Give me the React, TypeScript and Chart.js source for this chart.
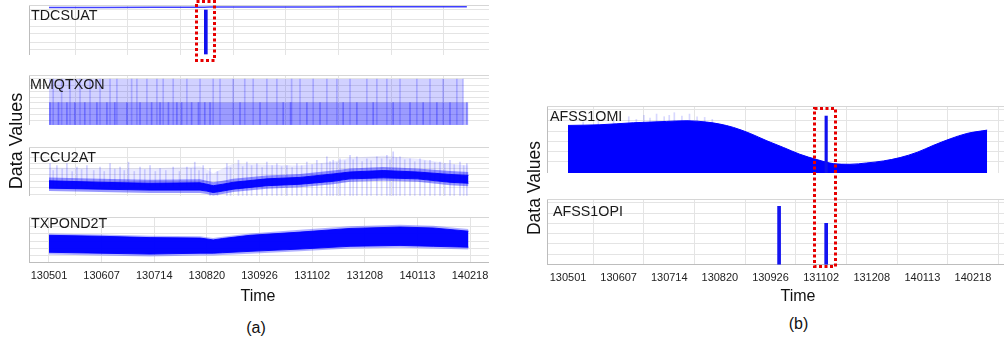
import React, { useEffect, useRef } from 'react';
import { Chart, registerables } from 'chart.js';

Chart.register(...registerables);
Chart.defaults.font.family = '"Liberation Sans", Arial, sans-serif';

// ---------- shared axis data ----------
const tickLabels = ['130501', '130607', '130714', '130820', '130926', '131102', '131208', '140113', '140218'];
const tickPositions = [0, 1, 2, 3, 4, 5, 6, 7, 8];

// ---------- panel (a) ----------
// TDCSUAT
const tdcX = [0, 1, 2, 2.95, 3.05, 4, 5, 6, 7, 7.94];
const tdcY = [95, 95, 95.5, 95.5, 96, 96, 96, 96.5, 96.5, 96.5];
const tdcSpikeX = [2.98];
const tdcSpikeLo = [2];
const tdcSpikeHi = [90];
const tdcGrid = [0, 12, 26, 43, 57, 71, 90, 100];

// MMQTXON
const mmqSpanX = [0, 7.87];
const mmqSpanHigh = [92, 92];
const mmqLowSpanX = [0, 7.97];
const mmqLowSpan = [45, 45];
const mmqFullX = [0.08, 0.24, 0.4, 0.59, 0.78, 0.97, 1.16, 1.29, 1.57, 1.67, 1.86, 2.05, 2.17, 2.36, 2.62, 2.87, 3.12, 3.25, 3.5, 3.72, 3.88, 4.14, 4.33, 4.61, 4.77, 5.02, 5.28, 5.47, 5.72, 6.04, 6.23, 6.42, 6.67, 6.99, 7.24, 7.49, 7.75, 7.87];
const mmqFullY = mmqFullX.map(() => 92);
const mmqHalfX = [0.02, 0.18, 0.34, 0.49, 0.68, 0.91, 1.1, 1.25, 1.48, 1.73, 1.95, 2.11, 2.27, 2.43, 2.52, 2.71, 2.84, 2.96, 3.06, 3.63, 4.01, 4.45, 4.59, 4.9, 5.15, 5.59, 5.85, 6.16, 6.54, 6.86, 7.11, 7.37, 7.62, 7.94];
const mmqHalfY = mmqHalfX.map(() => 45);
const mmqGrid = [0, 10, 22, 33, 45, 55, 67, 78, 92, 100];

// TCCU2AT
const tccX = [0, 0.97, 1.92, 2.87, 3.0, 3.12, 3.3, 3.5, 4.14, 4.77, 5.4, 5.72, 6.35, 7.0, 7.62, 7.97];
const tccLow = [16, 14, 12, 12, 10, 7, 10, 14, 21, 24, 30, 35, 37, 35, 28, 26];
const tccHigh = [31, 28, 26, 27, 24, 21, 24, 28, 35, 38, 45, 49, 52, 49, 44, 42];
const tccFringeLow = [10, 8, 6, 6, 4, 1, 4, 8, 15, 18, 24, 29, 31, 29, 22, 20];
const tccFringeHigh = [38, 35, 33, 34, 31, 28, 31, 35, 42, 45, 52, 56, 59, 56, 51, 49];
const tccHaze = [58, 56, 56, 60, 54, 46, 56, 66, 64, 62, 70, 78, 82, 76, 66, 62];
const tccSpikeX = [0.02, 0.15, 0.34, 0.53, 0.72, 0.97, 1.16, 1.35, 1.51, 1.73, 1.92, 2.11, 2.36, 2.62, 2.77, 2.93, 3.06, 3.38, 3.6, 3.76, 3.95, 4.14, 4.33, 4.52, 4.71, 4.9, 5.09, 5.28, 5.4, 5.53, 5.72, 5.85, 6.04, 6.23, 6.42, 6.54, 6.67, 6.86, 7.05, 7.24, 7.43, 7.62, 7.81, 7.94];
const tccSpikeTop = [66, 62, 66, 59, 62, 59, 66, 59, 69, 59, 62, 56, 59, 59, 69, 62, 56, 66, 73, 69, 66, 69, 66, 62, 66, 69, 73, 80, 73, 76, 83, 80, 76, 80, 83, 90, 80, 76, 76, 73, 69, 73, 69, 66];
const tccSpike2X = [0.08, 0.25, 0.44, 0.62, 0.85, 1.05, 1.25, 1.43, 1.62, 1.82, 2.02, 2.22, 2.48, 2.7, 2.85, 3.0, 3.2, 3.45, 3.68, 3.85, 4.05, 4.24, 4.42, 4.62, 4.8, 5.0, 5.18, 5.34, 5.47, 5.62, 5.78, 5.95, 6.12, 6.32, 6.48, 6.6, 6.76, 6.95, 7.14, 7.33, 7.52, 7.7, 7.88];
const tccSpike2Top = [52, 55, 50, 54, 52, 50, 55, 52, 50, 54, 50, 52, 50, 56, 52, 45, 50, 58, 60, 62, 58, 62, 60, 58, 62, 64, 66, 70, 68, 72, 74, 70, 72, 76, 74, 78, 74, 70, 72, 68, 66, 64, 62];
const tccGrid = [0, 4, 17, 29, 44, 56, 67, 79, 100];

// TXPOND2T
const txpX = [0, 0.97, 1.92, 2.87, 3.0, 3.12, 3.3, 3.82, 4.77, 5.72, 6.67, 7.3, 7.97];
const txpLow = [23, 21, 19, 21, 21, 21, 22, 25, 30, 36, 38, 36, 34];
const txpHigh = [60, 58, 55, 54, 52, 50, 53, 60, 67, 75, 78, 76, 69];
const txpFringeLow = [18, 16, 14, 16, 16, 16, 17, 20, 25, 31, 33, 31, 29];
const txpFringeHigh = [64, 62, 59, 58, 56, 54, 57, 64, 72, 80, 83, 81, 74];
const txpGrid = [0, 16, 31, 47, 64, 80, 100];

// ---------- panel (b) ----------
// AFSS1OMI
const omiX = [0, 0.63, 1.29, 1.95, 2.35, 2.74, 3.0, 3.27, 3.6, 3.93, 4.26, 4.58, 4.92, 5.24, 5.57, 5.9, 6.23, 6.56, 6.9, 7.21, 7.55, 7.88, 8.28];
const omiY = [71, 72, 75, 77, 78, 76, 73, 68, 59, 48, 38, 28, 20, 14, 13, 15, 18, 23, 31, 41, 51, 59, 64];
const omiNoiseX = [0.3, 0.6, 0.9, 1.2, 1.35, 1.5, 1.62, 1.75, 1.9, 2.0, 2.1, 2.25, 2.4, 2.55, 2.7, 2.85];
const omiNoiseTop = [76, 77, 79, 84, 80, 86, 82, 88, 84, 86, 90, 85, 88, 84, 83, 80];
const omiSpikeX = [5.1];
const omiSpikeY = [85];
const omiGrid = [0, 17, 32, 47, 62, 79, 95, 100];

// AFSS1OPI
const opiX = [4.17, 5.1];
const opiY = [89, 63];
const opiGrid = [0, 15, 32, 48, 63, 78, 94, 100];

// ---------- styling ----------
const GRID = '#e4e4e4';
const BORDER = '#bdbdbd';
const BLUE = '#0000ff';

const pts = (xs: number[], ys: number[]) => xs.map((x, i) => ({ x, y: ys[i] }));
const rangePts = (xs: number[], lo: number[], hi: number[]) => xs.map((x, i) => ({ x, y: [lo[i], hi[i]] }));

const lineDs = (data: any, color: string, width: number, fill: any = false, bg = 'transparent', tension = 0) => ({
  type: 'line',
  data,
  borderColor: color,
  borderWidth: width,
  backgroundColor: bg,
  pointRadius: 0,
  fill,
  tension,
  cubicInterpolationMode: tension ? 'monotone' : 'default',
});

const barDs = (data: any, color: string, thickness: number) => ({
  type: 'bar',
  data,
  backgroundColor: color,
  borderWidth: 0,
  barThickness: thickness,
  grouped: false,
});

const noPad = (s: any) => {
  s.paddingLeft = 0;
  s.paddingRight = 0;
  s.paddingTop = 0;
  s.paddingBottom = 0;
};

function makeOptions(xMin: number, xMax: number, yTicks: number[], showLabels: boolean) {
  return {
    responsive: false,
    animation: false,
    events: [],
    layout: { padding: 0, autoPadding: false },
    plugins: { legend: { display: false }, tooltip: { enabled: false } },
    scales: {
      x: {
        type: 'linear',
        min: xMin,
        max: xMax,
        offset: false,
        afterBuildTicks: (s: any) => {
          s.ticks = tickPositions.map((v) => ({ value: v }));
        },
        afterFit: noPad,
        grid: { color: GRID, drawTicks: false },
        border: { color: BORDER },
        ticks: {
          display: showLabels,
          padding: 7,
          autoSkip: false,
          maxRotation: 0,
          color: '#222',
          font: { size: 11 },
          callback: (v: number) => tickLabels[Math.round(v)],
        },
      },
      y: {
        type: 'linear',
        min: 0,
        max: 100,
        afterBuildTicks: (s: any) => {
          s.ticks = yTicks.map((v) => ({ value: v }));
        },
        afterFit: noPad,
        grid: { color: GRID, drawTicks: false },
        border: { color: BORDER },
        ticks: { display: false },
      },
      x2: {
        type: 'linear',
        position: 'top',
        min: xMin,
        max: xMax,
        afterFit: noPad,
        grid: { display: false, drawTicks: false },
        ticks: { display: false },
        border: { color: '#d6d6d6' },
      },
      y2: {
        type: 'linear',
        position: 'right',
        min: 0,
        max: 100,
        afterFit: noPad,
        grid: { display: false, drawTicks: false },
        ticks: { display: false },
        border: { color: BORDER },
      },
    },
  };
}

type SubProps = {
  left: number;
  top: number;
  width: number;
  height: number;
  xMin: number;
  xMax: number;
  yTicks: number[];
  showLabels: boolean;
  datasets: any[];
};

function SubChart(p: SubProps) {
  const ref = useRef<HTMLCanvasElement>(null);
  useEffect(() => {
    const chart = new Chart(ref.current as HTMLCanvasElement, {
      type: 'line',
      data: { datasets: p.datasets },
      options: makeOptions(p.xMin, p.xMax, p.yTicks, p.showLabels) as any,
    } as any);
    return () => chart.destroy();
  }, []);
  return (
    <canvas
      ref={ref}
      width={p.width}
      height={p.height}
      style={{ position: 'absolute', left: p.left, top: p.top, width: p.width, height: p.height }}
    />
  );
}

const A_MIN = -0.38;
const A_MAX = 8.361;
const B_MIN = -0.415;
const B_MAX = 8.613;

const nameStyle: React.CSSProperties = {
  position: 'absolute',
  fontSize: 14.3,
  lineHeight: 1,
  color: '#1a1a1a',
  whiteSpace: 'nowrap',
};

function Label({ text, left, top }: { text: string; left: number; top: number }) {
  return <div style={{ ...nameStyle, left, top }}>{text}</div>;
}

function Centered({ text, cx, top, size }: { text: string; cx: number; top: number; size: number }) {
  return (
    <div
      style={{
        position: 'absolute',
        left: cx,
        top,
        transform: 'translateX(-50%)',
        fontSize: size,
        lineHeight: 1,
        color: '#111',
        whiteSpace: 'nowrap',
      }}
    >
      {text}
    </div>
  );
}

function Vertical({ text, cx, cy, size }: { text: string; cx: number; cy: number; size: number }) {
  return (
    <div
      style={{
        position: 'absolute',
        left: cx,
        top: cy,
        transform: 'translate(-50%, -50%) rotate(-90deg)',
        fontSize: size,
        lineHeight: 1,
        color: '#111',
        whiteSpace: 'nowrap',
      }}
    >
      {text}
    </div>
  );
}

export default function App() {
  const tdcDatasets = [
    barDs(rangePts(tdcSpikeX, tdcSpikeLo, tdcSpikeHi), '#1111ee', 3),
    lineDs(pts(tdcX, tdcY), 'rgba(30,30,255,0.85)', 1.5),
  ];
  const mmqDatasets = [
    barDs(pts(mmqHalfX, mmqHalfY), 'rgba(0,0,255,0.3)', 1),
    barDs(pts(mmqFullX, mmqFullY), 'rgba(0,0,255,0.2)', 1),
    lineDs(pts(mmqLowSpanX, mmqLowSpan), 'transparent', 0, 'origin', 'rgba(0,0,255,0.26)'),
    lineDs(pts(mmqSpanX, mmqSpanHigh), 'transparent', 0, 'origin', 'rgba(0,0,255,0.18)'),
  ];
  const tccDatasets = [
    lineDs(pts(tccX, tccLow), 'rgba(0,0,255,0.9)', 1),
    lineDs(pts(tccX, tccHigh), 'rgba(0,0,255,0.9)', 1, '-1', 'rgba(0,0,255,0.95)'),
    lineDs(pts(tccX, tccFringeLow), 'transparent', 0),
    lineDs(pts(tccX, tccFringeHigh), 'transparent', 0, '-1', 'rgba(0,0,255,0.4)'),
    barDs(rangePts(tccSpikeX, tccLow.map(() => 20), tccSpikeTop), 'rgba(40,40,255,0.22)', 1),
    barDs(rangePts(tccSpike2X, tccLow.map(() => 20), tccSpike2Top), 'rgba(40,40,255,0.18)', 1),
    lineDs(pts(tccX, tccHigh), 'transparent', 0),
    lineDs(pts(tccX, tccHaze), 'transparent', 0, '-1', 'rgba(60,60,255,0.1)'),
  ];
  const txpDatasets = [
    lineDs(pts(txpX, txpLow), 'rgba(0,0,255,0.9)', 1),
    lineDs(pts(txpX, txpHigh), 'rgba(0,0,255,0.9)', 1, '-1', 'rgba(0,0,255,0.97)'),
    lineDs(pts(txpX, txpFringeLow), 'transparent', 0),
    lineDs(pts(txpX, txpFringeHigh), 'transparent', 0, '-1', 'rgba(0,0,255,0.3)'),
  ];
  const omiDatasets = [
    barDs(pts(omiSpikeX, omiSpikeY), '#1111ee', 2.5),
    lineDs(pts(omiX, omiY), BLUE, 1, 'origin', BLUE, 0.4),
    barDs(pts(omiNoiseX, omiNoiseTop), 'rgba(60,60,255,0.2)', 1),
  ];
  const opiDatasets = [barDs(pts(opiX, opiY), '#1414f0', 3)];

  return (
    <div
      style={{
        position: 'fixed',
        left: 0,
        top: 0,
        width: 1004,
        height: 339,
        background: '#fff',
        overflow: 'hidden',
        fontFamily: '"Liberation Sans", Arial, sans-serif',
      }}
    >
      {/* panel (a) */}
      <SubChart left={29} top={5} width={460} height={50} xMin={A_MIN} xMax={A_MAX} yTicks={tdcGrid} showLabels={false} datasets={tdcDatasets} />
      <SubChart left={29} top={75} width={460} height={50} xMin={A_MIN} xMax={A_MAX} yTicks={mmqGrid} showLabels={false} datasets={mmqDatasets} />
      <SubChart left={29} top={147} width={460} height={49} xMin={A_MIN} xMax={A_MAX} yTicks={tccGrid} showLabels={false} datasets={tccDatasets} />
      <SubChart left={29} top={217} width={460} height={73} xMin={A_MIN} xMax={A_MAX} yTicks={txpGrid} showLabels={true} datasets={txpDatasets} />

      {/* panel (b) */}
      <SubChart left={547} top={106} width={457} height={67} xMin={B_MIN} xMax={B_MAX} yTicks={omiGrid} showLabels={false} datasets={omiDatasets} />
      <SubChart left={547} top={199} width={457} height={93} xMin={B_MIN} xMax={B_MAX} yTicks={opiGrid} showLabels={true} datasets={opiDatasets} />

      {/* subplot names */}
      <Label text="TDCSUAT" left={31} top={8.4} />
      <Label text="MMQTXON" left={30} top={77.4} />
      <Label text="TCCU2AT" left={31} top={150.4} />
      <Label text="TXPOND2T" left={31} top={216.4} />
      <Label text="AFSS1OMI" left={550} top={109.4} />
      <Label text="AFSS1OPI" left={553} top={204.4} />

      {/* axis titles */}
      <Vertical text="Data Values" cx={16} cy={141} size={18} />
      <Vertical text="Data Values" cx={535} cy={188} size={17.5} />
      <Centered text="Time" cx={258} top={288} size={16} />
      <Centered text="Time" cx={798} top={287.5} size={16} />
      <Centered text="(a)" cx={256} top={320} size={16} />
      <Centered text="(b)" cx={798.5} top={316.3} size={16} />

      {/* highlight boxes */}
      <svg width={1004} height={339} style={{ position: 'absolute', left: 0, top: 0, pointerEvents: 'none' }}>
        <rect x={196.5} y={1.5} width={18} height={59} fill="none" stroke="#e60000" strokeWidth={3} strokeDasharray="3 2.5" />
        <rect x={814.5} y={108.5} width={21} height={158} fill="none" stroke="#e60000" strokeWidth={3} strokeDasharray="3 2.5" />
      </svg>
    </div>
  );
}
